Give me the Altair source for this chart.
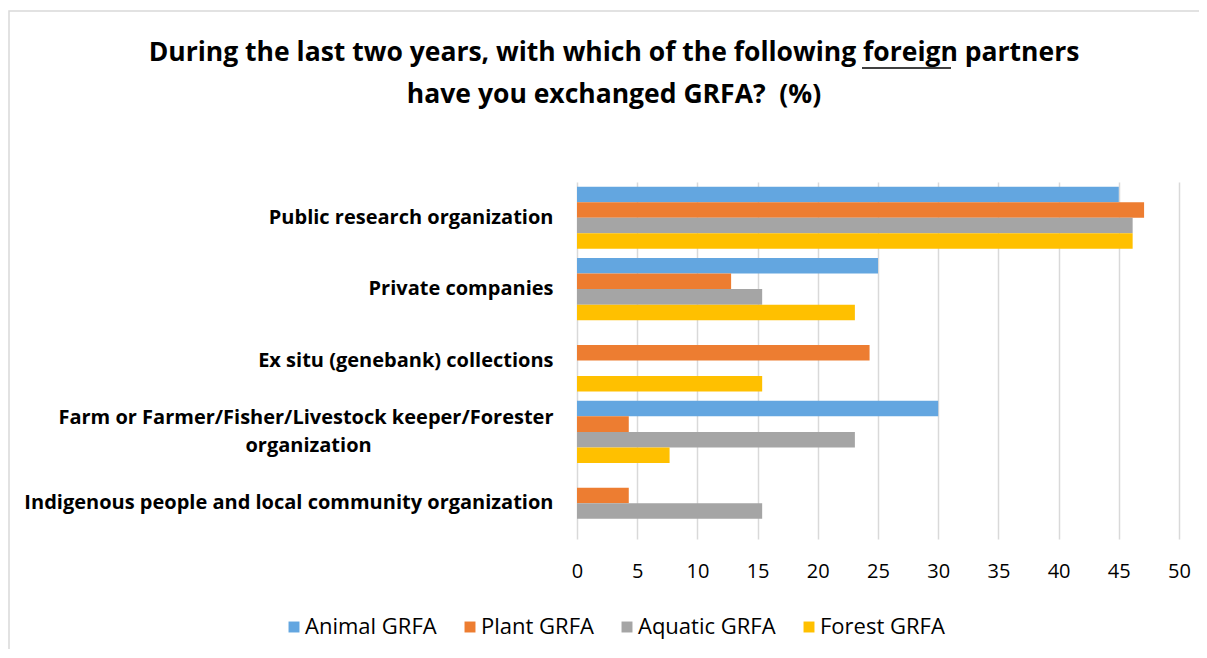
import altair as alt
import pandas as pd

PAD = "\u00a0" * 35 + "\u200b"
categories = [
    "Public research organization",
    "Private companies",
    "Ex situ (genebank) collections",
    "Farm or Farmer/Fisher/Livestock keeper/Forester|organization" + PAD,
    "Indigenous people and local community organization",
]
series = ["Animal GRFA", "Plant GRFA", "Aquatic GRFA", "Forest GRFA"]
animal = [45.0, 25.0, 0.0, 30.0, 0.0]
plant = [47.1, 12.8, 24.3, 4.3, 4.3]
aquatic = [46.15, 15.38, 0.0, 23.08, 15.38]
forest = [46.15, 23.08, 15.38, 7.69, 0.0]
x_ticks = list(range(0, 51, 5))
colors = ["#63A6E0", "#ED7D31", "#A5A5A5", "#FFC000"]
title_lines = [
    "During the last two years, with which of the following foreign partners",
    "have you exchanged GRFA?\u00a0 (%)",
]

rows = []
for s, vals in zip(series, [animal, plant, aquatic, forest]):
    for c, v in zip(categories, vals):
        rows.append({"category": c, "series": s, "value": v})
df = pd.DataFrame(rows)

FONT = "Open Sans"
W, H = 602, 357

bars = alt.Chart(df).mark_bar().encode(
    y=alt.Y(
        "category:N",
        sort=categories,
        title=None,
        scale=alt.Scale(paddingInner=0.13, paddingOuter=0.065),
        axis=alt.Axis(
            labelExpr="split(datum.label, '|')",
            labelFont=FONT,
            labelFontWeight="bold",
            labelFontSize=20,
            labelColor="#000000",
            labelPadding=24,
            labelLineHeight=28,
            labelLimit=700,
            labelOffset={
                "condition": {"test": "indexof(datum.value, '|') >= 0", "value": -14},
                "value": 0,
            },
            domain=False,
            ticks=False,
            grid=False,
        ),
    ),
    yOffset=alt.YOffset("series:N", sort=series),
    x=alt.X(
        "value:Q",
        title=None,
        scale=alt.Scale(domain=[0, 50], nice=False),
        axis=alt.Axis(
            values=x_ticks,
            labelFont=FONT,
            labelFontSize=20,
            labelColor="#000000",
            labelPadding=22,
            labelFlush=False,
            domain=False,
            ticks=False,
            grid=True,
            gridColor="#D9D9D9",
            gridWidth=1.5,
        ),
    ),
    color=alt.Color(
        "series:N",
        sort=series,
        scale=alt.Scale(domain=series, range=colors),
        legend=alt.Legend(
            title=None,
            orient="none",
            direction="horizontal",
            legendX=-294,
            legendY=434,
            symbolType="square",
            symbolSize=120,
            symbolStrokeWidth=0,
            labelFont=FONT,
            labelFontSize=22,
            labelColor="#000000",
            labelOffset=0,
            columnPadding=22,
            labelLimit=300,
        ),
    ),
)

title1 = alt.Chart(alt.Data(values=[{"t": title_lines[0]}])).mark_text(
    font=FONT, fontSize=26.5, fontWeight="bold", color="#000000", align="center", baseline="middle"
).encode(text="t:N", x=alt.value(37), y=alt.value(-129))
title2 = alt.Chart(alt.Data(values=[{"t": title_lines[1]}])).mark_text(
    font=FONT, fontSize=26.5, fontWeight="bold", color="#000000", align="center", baseline="middle"
).encode(text="t:N", x=alt.value(37), y=alt.value(-87))

# underline under "foreign " in the title
underline = alt.Chart(alt.Data(values=[{"a": 1}])).mark_rule(
    color="#000000", strokeWidth=1.5
).encode(x=alt.value(285), x2=alt.value(374), y=alt.value(-114))

# chart-area border (top and left edges)
border = alt.Chart(alt.Data(values=[{"a": 1}])).mark_rect(
    filled=False, stroke="#D9D9D9", strokeWidth=1.5
).encode(x=alt.value(-568), x2=alt.value(660), y=alt.value(-171), y2=alt.value(500))

chart = alt.layer(border, bars, title1, title2, underline).properties(
    width=W,
    height=H,
    autosize=alt.AutoSizeParams(type="none"),
    padding={"left": 569, "top": 174, "right": 20, "bottom": 110},
).configure_view(stroke=None)

chart.save("out.html", embed_options={"renderer": "svg", "actions": False})
